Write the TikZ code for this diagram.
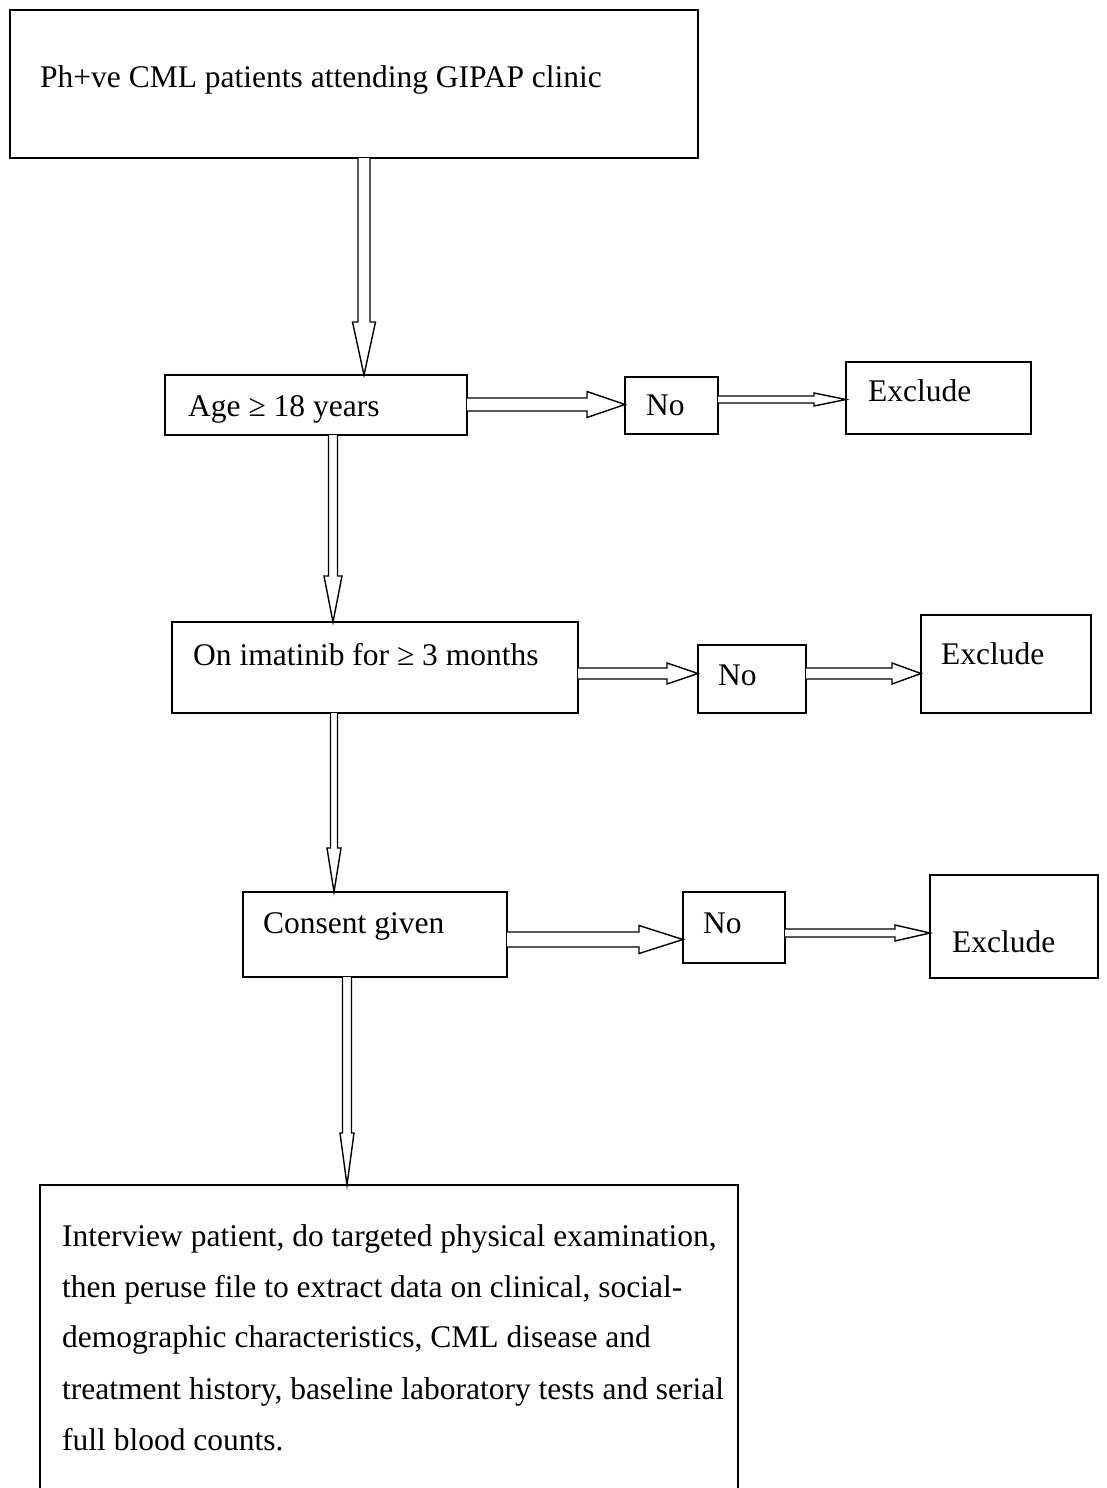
\documentclass[tikz,border=0pt]{standalone}
\usepackage{fontspec}
\setmainfont{Liberation Serif}
\usetikzlibrary{calc}
\newcommand\lbfont{\fontsize{31.5}{38}\selectfont}
\newcommand\blkdown[5]{\draw[blk] let \p1=#1, \p2=#2 in (\x1-#3,\y1) -- (\x1-#3,\y2+#5) -- (\x1-#4,\y2+#5) -- (\x1,\y2) -- (\x1+#4,\y2+#5) -- (\x1+#3,\y2+#5) -- (\x1+#3,\y1);}
\newcommand\blkright[5]{\draw[blk] let \p1=#1, \p2=#2 in (\x1,\y1+#3) -- (\x2-#5,\y1+#3) -- (\x2-#5,\y1+#4) -- (\x2,\y1) -- (\x2-#5,\y1-#4) -- (\x2-#5,\y1-#3) -- (\x1,\y1-#3);}
\tikzset{
  box/.style={draw, line width=1.4pt, inner sep=0pt, outer sep=0pt, anchor=north west},
  lbl/.style={anchor=base west, inner sep=0pt, font=\lbfont},
  blk/.style={draw, line width=1.4pt, line join=miter, fill=white}
}
\begin{document}
\begin{tikzpicture}[x=1pt,y=1pt]
\useasboundingbox (0,0) rectangle (1106,-1488);
% boxes
\node[box, minimum width=688pt, minimum height=148pt] (b1) at (10,-10) {};
\node[box, minimum width=302pt, minimum height=60pt] (b2) at (165,-375) {};
\node[box, minimum width=93pt, minimum height=57pt] (n1) at (625,-377) {};
\node[box, minimum width=185pt, minimum height=72pt] (e1) at (846,-362) {};
\node[box, minimum width=406pt, minimum height=91pt] (b3) at (172,-622) {};
\node[box, minimum width=108pt, minimum height=68pt] (n2) at (698,-645) {};
\node[box, minimum width=170pt, minimum height=98pt] (e2) at (921,-615) {};
\node[box, minimum width=264pt, minimum height=85pt] (b4) at (243,-892) {};
\node[box, minimum width=102pt, minimum height=71pt] (n3) at (683,-892) {};
\node[box, minimum width=168pt, minimum height=103pt] (e3) at (930,-875) {};
\node[box, draw=none, minimum width=698pt, minimum height=303pt] (b5) at (40,-1185) {};
\draw[line width=1.4pt] (b5.south west) -- (b5.north west) -- (b5.north east) -- (b5.south east);
% labels
\node[lbl] (t1) at (40,-87) {Ph+ve CML patients attending GIPAP clinic};
\node[lbl] (t2) at (188,-416) {Age ≥ 18 years};
\node[lbl] (tn1) at (646,-415) {No};
\node[lbl] (te1) at (868,-401) {Exclude};
\node[lbl] (t3) at (193,-665) {On imatinib for ≥ 3 months};
\node[lbl] (tn2) at (718,-685) {No};
\node[lbl] (te2) at (941,-664) {Exclude};
\node[lbl] (t4) at (263,-933) {Consent given};
\node[lbl] (tn3) at (703,-933) {No};
\node[lbl] (te3) at (952,-952) {Exclude};
\node[lbl] (l1) at (62,-1246) {Interview patient, do targeted physical examination,};
\node[lbl] (l2) at (62,-1297) {then peruse file to extract data on clinical, social-};
\node[lbl] (l3) at (62,-1347) {demographic characteristics, CML disease and};
\node[lbl] (l4) at (62,-1399) {treatment history, baseline laboratory tests and serial};
\node[lbl] (l5) at (62,-1450) {full blood counts.};
% arrow guide coordinates
\coordinate (xa1) at (364,0);
\coordinate (xa2) at (333,0);
\coordinate (xa3) at (334,0);
\coordinate (xa4) at (347,0);
\coordinate (ya1) at (0,-404.5);
\coordinate (ya2) at (0,-399.5);
\coordinate (ya3) at (0,-673.5);
\coordinate (ya4) at (0,-673.5);
\coordinate (ya5) at (0,-939.5);
\coordinate (ya6) at (0,-933);
% arrows
\blkdown{(b1.south -| xa1)}{(b2.north -| xa1)}{6pt}{11.5pt}{53pt}
\blkright{(b2.east |- ya1)}{(n1.west |- ya1)}{6.5pt}{13pt}{38pt}
\blkright{(n1.east |- ya2)}{(e1.west |- ya2)}{3.5pt}{6.5pt}{32pt}
\blkdown{(b2.south -| xa2)}{(b3.north -| xa2)}{4.5pt}{9pt}{46pt}
\blkright{(b3.east |- ya3)}{(n2.west |- ya3)}{5.5pt}{10.5pt}{31pt}
\blkright{(n2.east |- ya4)}{(e2.west |- ya4)}{5.5pt}{10.5pt}{29pt}
\blkdown{(b3.south -| xa3)}{(b4.north -| xa3)}{3.5pt}{7pt}{44pt}
\blkright{(b4.east |- ya5)}{(n3.west |- ya5)}{7.5pt}{14pt}{44pt}
\blkright{(n3.east |- ya6)}{(e3.west |- ya6)}{4pt}{8pt}{35pt}
\blkdown{(b4.south -| xa4)}{(b5.north -| xa4)}{4.5pt}{7pt}{52pt}
\end{tikzpicture}
\end{document}
